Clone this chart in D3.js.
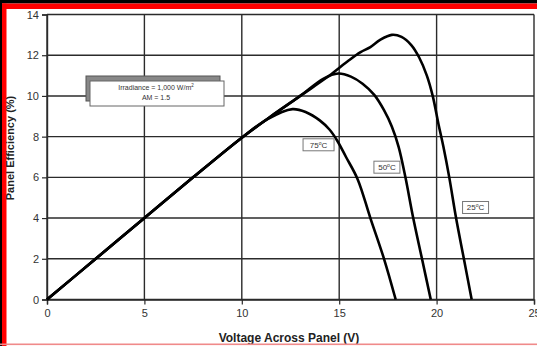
<!DOCTYPE html>
<html>
<head>
<meta charset="utf-8">
<script src="https://cdn.jsdelivr.net/npm/d3@7"></script>
<style>
  body { margin: 0; background: #fff; }
  svg { display: block; font-family: "Liberation Sans", Arial, sans-serif; }
</style>
</head>
<body>
<script>
// efficiency (%) against panel voltage (V)
const curve25 = [[0,0],[2.5,2],[5,4],[7.5,6],[10,7.95],[11.5,9.0],[13,10],[14.5,11.0],[15.5,11.75],[16.1,12.15],[16.6,12.4],[17.1,12.75],[17.7,13.0],[18.2,12.9],[18.7,12.5],[19.1,11.9],[19.5,11.0],[19.8,10],[20.1,8.6],[20.35,7.5],[20.65,6],[21.0,4],[21.4,2],[21.8,0]];
const curve50 = [[0,0],[2.5,2],[5,4],[7.5,6],[10,7.95],[11.5,9.0],[13,10],[14.2,10.85],[14.95,11.1],[15.6,10.95],[16.2,10.6],[16.8,10.05],[17.3,9.3],[17.7,8.5],[18.05,7.5],[18.4,6],[18.8,4],[19.25,2],[19.7,0]];
const curve75 = [[0,0],[2.5,2],[5,4],[7.5,6],[10,7.95],[11.3,8.85],[12.6,9.35],[13.3,9.2],[14,8.8],[14.5,8.35],[14.9,7.8],[15.35,7.0],[15.95,5.9],[16.6,4],[17.3,2],[17.9,0]];
const series = [curve25, curve50, curve75];
const tempLabels = ["25°C", "50°C", "75°C"];
const tempLabelAt = [[22.0, 4.52], [17.45, 6.5], [13.94, 7.6]];

const xTicks = [0, 5, 10, 15, 20, 25];
const yTicks = [0, 2, 4, 6, 8, 10, 12, 14];
const xTitle = "Voltage Across Panel (V)";
const yTitle = "Panel Efficiency (%)";
const noteLines = ["Irradiance = 1,000 W/m", "AM = 1.5"];

const W = 537, H = 346;
const svg = d3.select("body").append("svg").attr("width", W).attr("height", H);

// frame of the slide
svg.append("rect").attr("x", 0).attr("y", 0).attr("width", W).attr("height", 3.5).attr("fill", "#000");
svg.append("rect").attr("x", 0).attr("y", 3.5).attr("width", W).attr("height", 5.5).attr("fill", "#f00");
svg.append("rect").attr("x", 0).attr("y", 0).attr("width", 2).attr("height", H).attr("fill", "#000");
svg.append("rect").attr("x", 2).attr("y", 3.5).attr("width", 4.5).attr("height", H).attr("fill", "#f00");

const x = d3.scaleLinear().domain([0, 25]).range([47, 534]);
const y = d3.scaleLinear().domain([0, 14]).range([299.5, 14.5]);

const g = svg.append("g");

// grid
g.selectAll(".gx").data(xTicks).enter().append("line")
  .attr("x1", d => x(d)).attr("x2", d => x(d))
  .attr("y1", y(0)).attr("y2", y(14))
  .attr("stroke", "#2b2b2b").attr("stroke-width", 1.4);
g.selectAll(".gy").data(yTicks).enter().append("line")
  .attr("x1", x(0)).attr("x2", x(25))
  .attr("y1", d => y(d)).attr("y2", d => y(d))
  .attr("stroke", "#2b2b2b").attr("stroke-width", 1.4);

// axes
const xAxis = g.append("g").attr("transform", `translate(0,${y(0)})`)
  .call(d3.axisBottom(x).tickValues(xTicks).tickSize(5).tickPadding(5).tickFormat(d3.format("d")));
const yAxis = g.append("g").attr("transform", `translate(${x(0)},0)`)
  .call(d3.axisLeft(y).tickValues(yTicks).tickSize(5).tickPadding(3).tickFormat(d3.format("d")));
[xAxis, yAxis].forEach(a => {
  a.select(".domain").attr("stroke", "#2b2b2b").attr("stroke-width", 1.4);
  a.selectAll(".tick line").attr("stroke", "#2b2b2b").attr("stroke-width", 1.2);
  a.selectAll("text").attr("fill", "#333").style("font-size", "11px").style("font-family", "Liberation Sans, Arial");
});

// curves
const line = d3.line().x(d => x(d[0])).y(d => y(d[1])).curve(d3.curveCatmullRom.alpha(0.5));
g.selectAll(".curve").data(series).enter().append("path")
  .attr("d", line)
  .attr("fill", "none").attr("stroke", "#000").attr("stroke-width", 2.6)
  .attr("stroke-linejoin", "round");

// temperature tags
tempLabels.forEach((t, i) => {
  const cx = x(tempLabelAt[i][0]), cy = y(tempLabelAt[i][1]);
  const w = i === 2 ? 31 : 26;
  g.append("rect").attr("x", cx - w / 2).attr("y", cy - 6).attr("width", w).attr("height", 12)
    .attr("fill", "#fff").attr("stroke", "#777").attr("stroke-width", 1);
  const tx = g.append("text").attr("x", cx).attr("y", cy + 3)
    .attr("text-anchor", "middle").style("font-size", "8px").attr("fill", "#333");
  tx.append("tspan").text(t.slice(0, 2));
  tx.append("tspan").attr("dy", -3).style("font-size", "5px").text("o");
  tx.append("tspan").attr("dy", 3).text("C");
});

// irradiance note box with shadow
const bx = 90, by = 81, bw = 134, bh = 25;
g.append("rect").attr("x", bx - 4).attr("y", by - 5).attr("width", bw).attr("height", bh)
  .attr("fill", "#888").attr("stroke", "#555").attr("stroke-width", 1);
g.append("rect").attr("x", bx).attr("y", by).attr("width", bw).attr("height", bh)
  .attr("fill", "#fff").attr("stroke", "#666").attr("stroke-width", 1);
const n1 = g.append("text").attr("x", bx + bw / 2 - 1).attr("y", by + 9)
  .attr("text-anchor", "middle").style("font-size", "7px").attr("fill", "#333");
n1.append("tspan").text(noteLines[0]);
n1.append("tspan").attr("dy", -3).style("font-size", "4.5px").text("2");
g.append("text").attr("x", bx + bw / 2 - 1).attr("y", by + 19)
  .attr("text-anchor", "middle").style("font-size", "7px").attr("fill", "#333").text(noteLines[1]);

// titles
svg.append("text").attr("x", 289).attr("y", 341.5)
  .attr("text-anchor", "middle").style("font-size", "12px").style("font-weight", "bold").attr("fill", "#222")
  .text(xTitle);
svg.append("text").attr("transform", "translate(14,148) rotate(-90)")
  .attr("text-anchor", "middle").style("font-size", "11px").style("font-weight", "bold").attr("fill", "#222")
  .text(yTitle);

// bottom edge line
svg.append("rect").attr("x", 0).attr("y", 343.5).attr("width", W).attr("height", 1.6).attr("fill", "#f08a8a");
</script>
</body>
</html>
